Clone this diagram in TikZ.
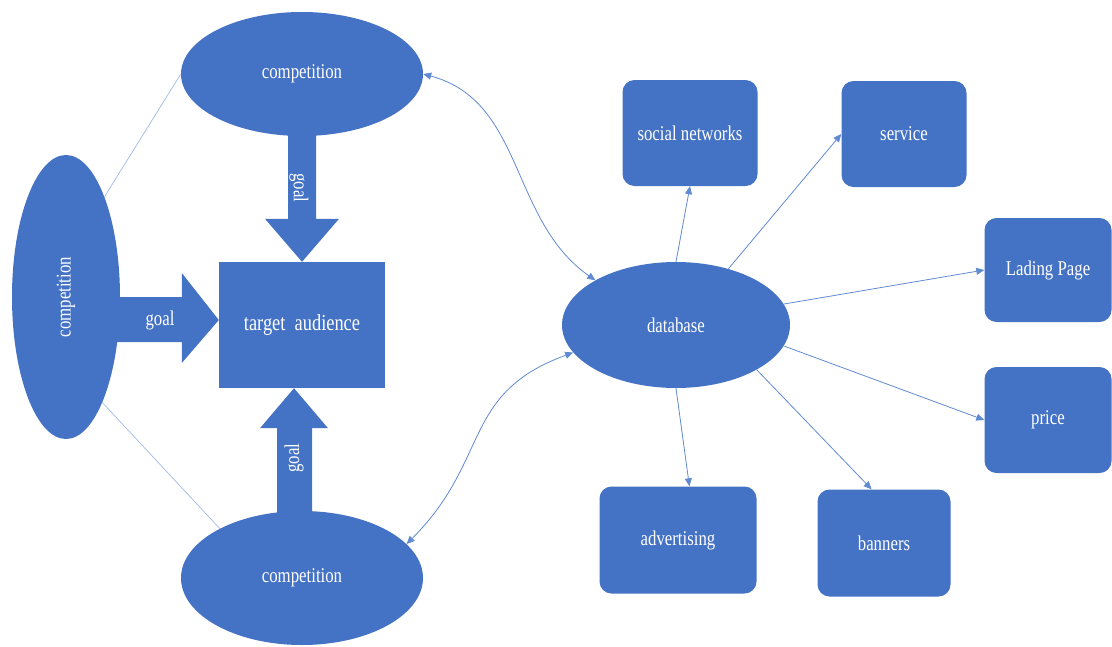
\documentclass[tikz,border=0pt]{standalone}
\usepackage{fontspec}
\setmainfont{Liberation Serif}[FakeStretch=0.8]
\usetikzlibrary{shapes.geometric,arrows.meta}

\definecolor{boxblue}{RGB}{68,114,196}
\definecolor{linkblue}{RGB}{96,138,210}
\definecolor{paleblue}{RGB}{160,186,230}

\begin{document}
\begin{tikzpicture}[x=1pt, y=1pt,
    every node/.style={font=\fontsize{21}{24}\selectfont, text=white},
    oval/.style={ellipse, fill=boxblue, inner sep=0pt},
    card/.style={rectangle, rounded corners=12pt, fill=boxblue, minimum height=106},
    link/.style={draw=linkblue, line width=0.8pt, -{Triangle[length=8pt,width=7pt]}},
    twoway/.style={draw=linkblue, line width=0.8pt, {Triangle[length=8pt,width=7pt]}-{Triangle[length=8pt,width=7pt]}},
    faint/.style={draw=paleblue, line width=0.7pt},
    fat/.style={fill=boxblue}]
    \useasboundingbox (0,0) rectangle (1112,-646);

    % The three competitors round the target audience
    \node[oval, minimum width=242, minimum height=124] (ctop) at (302,-74) {competition};
    \node[oval, minimum width=108, minimum height=284] (cleft) at (66,-297) {\rotatebox{90}{competition}};
    \node[oval, minimum width=242, minimum height=134] (cbot) at (302,-578) {competition};
    \node[rectangle, fill=boxblue, minimum width=166, minimum height=126,
        font=\fontsize{23}{26}\selectfont] (aud) at (302,-325) {target\ \ audience};

    % Thin links between the competitors
    \draw[faint] (ctop.west) -- (cleft.69);
    \draw[faint] (cleft.289) -- (cbot.149);

    % Block arrows pointing at the audience
    \fill[fat] ([xshift=-14pt, yshift=5pt]ctop.south) |- ([xshift=-37pt, yshift=43pt]aud.north)
        -- (aud.north) -- ([xshift=37pt, yshift=43pt]aud.north) -| ([xshift=14pt, yshift=5pt]ctop.south) -- cycle;
    \fill[fat] ([xshift=-25pt, yshift=-5pt]cbot.north) |- ([xshift=-42pt, yshift=-40pt]aud.south)
        -- ([xshift=-8pt]aud.south) -- ([xshift=26pt, yshift=-40pt]aud.south) -| ([xshift=10pt, yshift=-5pt]cbot.north) -- cycle;
    \fill[fat] ([xshift=-12pt]cleft.east) -| ([xshift=-37pt, yshift=52pt]aud.west)
        -- ([yshift=5pt]aud.west) -- ([xshift=-37pt, yshift=-38pt]aud.west) |- ([xshift=-12pt, yshift=-45pt]cleft.east) -- cycle;

    \node[rotate=-90] (gtop) at (299,-188) {goal};
    \node[rotate=90] (gbot) at (294,-458) {goal};
    \node (gleft) at (160,-320) {goal};

    % The database and what it feeds
    \node[oval, minimum width=228, minimum height=126] (db) at (676,-325) {database};

    \node[card, minimum width=135] (social) at (690,-133) {social networks};
    \node[card, minimum width=125] (service) at (904,-134) {service};
    \node[card, minimum width=127, minimum height=104] (lading) at (1048,-270) {Lading Page};
    \node[card, minimum width=127] (price) at (1048,-420) {price};
    \node[card, minimum width=133, minimum height=107] (banners) at (884,-543) {banners};
    \node[card, minimum width=157, minimum height=107] (advert) at (678,-540) {advertising};

    \draw[link] (db.north) -- (social.south);
    \draw[link] (db.47) -- (service.west);
    \draw[link] (db.11) -- (lading.west);
    \draw[link] (db.349) -- (price.west);
    \draw[link] (db.331) -- (banners.103);
    \draw[link] (db.south) -- (advert.78);

    % Two-way links from the competitors to the database
    \draw[twoway] (ctop.east) to[out=-15, in=145] (db.151);
    \draw[twoway] (cbot.18) to[out=45, in=200, looseness=1.2] (db.195);
\end{tikzpicture}
\end{document}
